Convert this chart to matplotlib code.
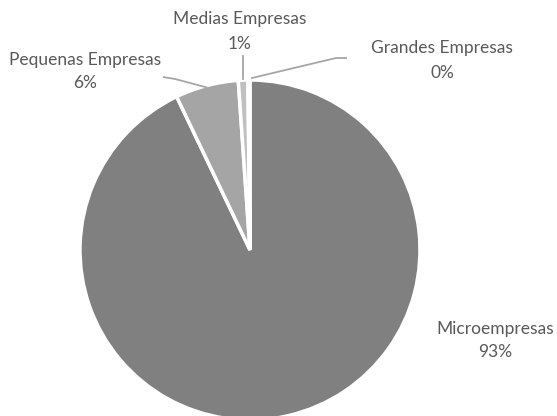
import matplotlib
matplotlib.use("Agg")
import matplotlib.pyplot as plt
import numpy as np

categories = ["Microempresas", "Pequenas Empresas", "Medias Empresas", "Grandes Empresas"]
values = [92.9, 6.0, 0.9, 0.2]
pct_labels = ["93%", "6%", "1%", "0%"]
colors = ["#808080", "#a5a5a5", "#c0c0c0", "#d9d9d9"]

W, H = 557, 416
fig = plt.figure(figsize=(W / 100, H / 100), dpi=100)
ax = fig.add_axes([0, 0, 1, 1])

cx, cy, R = 250, H - 250, 170
wedges, _ = ax.pie(values, colors=colors, startangle=90, counterclock=False,
                   center=(cx, cy), radius=R, frame=True,
                   wedgeprops=dict(edgecolor="white", linewidth=2.5))
ax.set_xlim(0, W)
ax.set_ylim(0, H)
ax.set_aspect("equal")
ax.axis("off")

font = dict(family=["Lato", "DejaVu Sans"], fontsize=12.5, color="#595959")
lc = "#a6a6a6"

def edge_point(w, r_extra=2):
    a = np.deg2rad((w.theta1 + w.theta2) / 2)
    return cx + (R + r_extra) * np.cos(a), cy + (R + r_extra) * np.sin(a)

def Y(y):
    return H - y

# label positions (pixel, top-origin)
label_pos = {
    "Microempresas": (495, 329, 352),
    "Pequenas Empresas": (85, 60, 83),
    "Medias Empresas": (240, 19, 44),
    "Grandes Empresas": (442, 48, 73),
}
for cat, pl in zip(categories, pct_labels):
    x, y1, y2 = label_pos[cat]
    ax.text(x, Y(y1), cat, ha="center", va="center", **font)
    ax.text(x, Y(y2), pl, ha="center", va="center", **font)

# leader lines
ex, ey = edge_point(wedges[1], -2)
ax.plot([163, 175, ex], [Y(77), Y(79), ey], color=lc, lw=1.3, solid_capstyle="butt")
ex, ey = edge_point(wedges[2], 1)
ax.plot([ex, ex], [ey, Y(56)], color=lc, lw=1.3)
ex, ey = edge_point(wedges[3], 2)
ax.plot([ex + 3, 336, 346], [ey, Y(58), Y(58)], color=lc, lw=1.3)

fig.savefig("out.png", dpi=100)
